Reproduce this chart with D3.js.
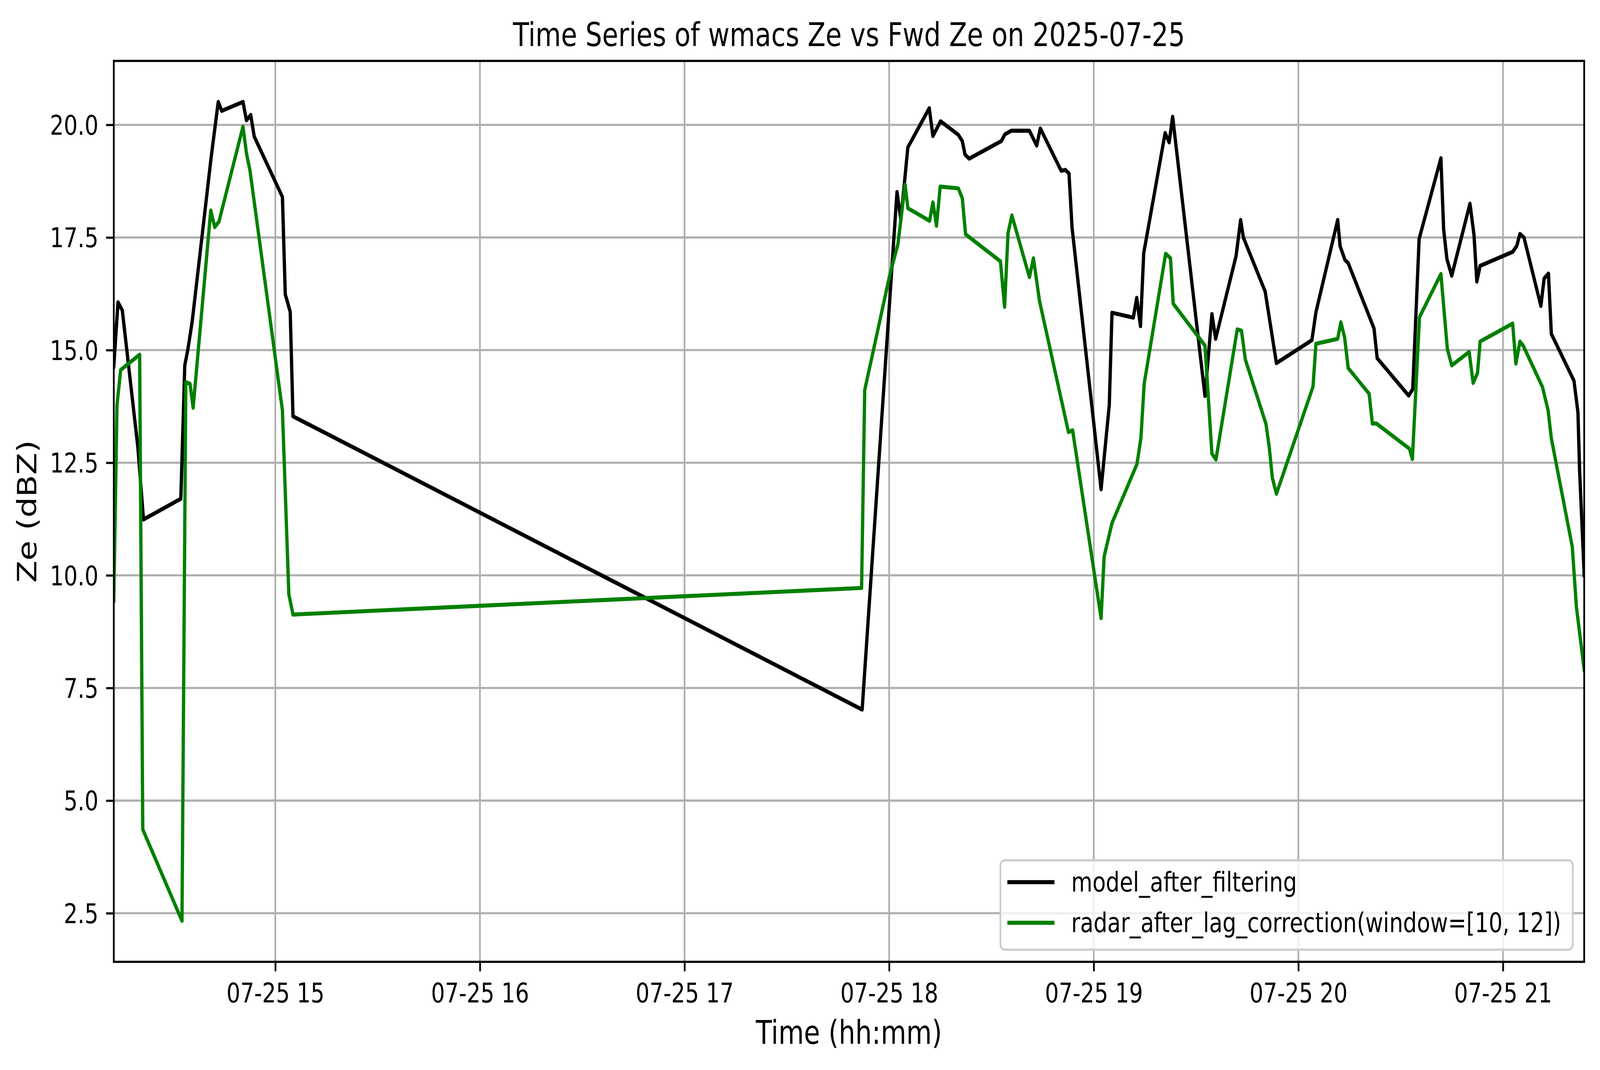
<!DOCTYPE html>
<html>
<head>
<meta charset="utf-8">
<script src="https://cdn.jsdelivr.net/npm/d3@7/dist/d3.min.js"></script>
<style>
	html, body { margin: 0; padding: 0; background: #ffffff; overflow: hidden; }
	#chart svg { display: block; width: 100vw; height: 100vh; }
	svg text { font-family: "DejaVu Sans", sans-serif; fill: #000000; }
</style>
</head>
<body>
<div id="chart"></div>
<script>
//values
var chart_title = "Time Series of wmacs Ze vs Fwd Ze on 2025-07-25";
var x_label = "Time (hh:mm)";
var y_label = "Ze (dBZ)";
var day = "2025-07-25";

var series_names = ["model_after_filtering", "radar_after_lag_correction(window=[10, 12])"];

var model_times = [
	"14:12:38", "14:13:52", "14:15:08", "14:19:41", "14:21:21", "14:32:17", "14:33:27", "14:34:22",
	"14:35:37", "14:41:11", "14:43:16", "14:44:18", "14:50:31", "14:51:32", "14:52:47", "14:53:49",
	"15:02:05", "15:02:55", "15:04:22", "15:05:11", "17:52:05", "18:02:18", "18:03:26", "18:05:29",
	"18:11:46", "18:12:50", "18:15:04", "18:20:17", "18:21:27", "18:22:15", "18:23:28", "18:32:54",
	"18:33:57", "18:35:49", "18:41:08", "18:43:16", "18:44:20", "18:50:27", "18:51:40", "18:52:44",
	"18:53:38", "19:02:09", "19:04:33", "19:05:21", "19:11:36", "19:12:36", "19:13:42", "19:14:39",
	"19:20:56", "19:22:07", "19:23:08", "19:32:37", "19:34:39", "19:35:44", "19:41:44", "19:43:04",
	"19:43:52", "19:50:16", "19:51:12", "19:53:34", "20:03:58", "20:05:09", "20:11:32", "20:12:14",
	"20:13:40", "20:14:37", "20:22:11", "20:23:07", "20:32:20", "20:33:32", "20:35:25", "20:41:48",
	"20:42:36", "20:43:34", "20:44:58", "20:50:19", "20:51:30", "20:52:20", "20:53:18", "21:02:50",
	"21:04:02", "21:04:58", "21:06:09", "21:11:07", "21:12:04", "21:13:20", "21:14:11", "21:20:49",
	"21:21:59", "21:22:28", "21:23:49"
];
var model_values = [
	14.64, 16.06, 15.88, 12.85, 11.24, 11.70, 14.66, 15.02,
	15.63, 19.28, 20.51, 20.31, 20.51, 20.10, 20.22, 19.74,
	18.40, 16.24, 15.85, 13.53, 7.02, 18.51, 17.89, 19.50,
	20.37, 19.75, 20.08, 19.78, 19.64, 19.34, 19.25, 19.64,
	19.79, 19.87, 19.87, 19.54, 19.92, 18.98, 19.00, 18.92,
	17.72, 11.91, 13.78, 15.83, 15.72, 16.16, 15.53, 17.15,
	19.82, 19.61, 20.18, 13.98, 15.80, 15.25, 17.09, 17.89,
	17.50, 16.30, 15.85, 14.71, 15.22, 15.84, 17.89, 17.31,
	17.00, 16.93, 15.48, 14.82, 13.99, 14.13, 17.47, 19.26,
	17.68, 17.02, 16.65, 18.25, 17.56, 16.52, 16.87, 17.18,
	17.31, 17.58, 17.50, 15.98, 16.59, 16.70, 15.36, 14.32,
	13.62, 12.33, 10.00
];

var radar_times = [
	"14:12:38", "14:13:34", "14:14:39", "14:20:13", "14:21:08", "14:32:38", "14:33:45", "14:34:59",
	"14:35:54", "14:41:04", "14:42:14", "14:43:28", "14:50:31", "14:51:32", "14:52:35", "15:02:05",
	"15:03:58", "15:05:11", "17:51:55", "17:52:50", "18:00:10", "18:02:34", "18:04:41", "18:05:29",
	"18:11:52", "18:12:50", "18:13:53", "18:14:58", "18:20:17", "18:21:27", "18:22:25", "18:32:38",
	"18:33:51", "18:34:52", "18:35:59", "18:41:08", "18:42:19", "18:44:04", "18:52:35", "18:53:48",
	"19:02:09", "19:03:03", "19:05:21", "19:12:40", "19:13:50", "19:14:47", "19:21:05", "19:22:30",
	"19:23:18", "19:32:37", "19:34:39", "19:35:50", "19:42:05", "19:43:19", "19:44:27", "19:50:30",
	"19:51:26", "19:52:23", "19:53:34", "20:04:18", "20:05:09", "20:11:32", "20:12:28", "20:13:34",
	"20:14:37", "20:20:45", "20:21:42", "20:22:53", "20:32:35", "20:33:26", "20:35:31", "20:41:48",
	"20:43:41", "20:44:58", "20:50:05", "20:51:15", "20:52:32", "20:53:18", "21:02:50", "21:03:47",
	"21:04:58", "21:05:55", "21:11:35", "21:13:14", "21:14:11", "21:20:20", "21:21:31", "21:23:49"
];
var radar_values = [
	9.44, 13.77, 14.56, 14.90, 4.36, 2.33, 14.29, 14.25,
	13.72, 18.10, 17.73, 17.85, 19.96, 19.37, 18.98, 13.66,
	9.58, 9.13, 9.72, 14.11, 16.66, 17.35, 18.67, 18.15,
	17.87, 18.28, 17.76, 18.63, 18.59, 18.37, 17.57, 16.97,
	15.96, 17.60, 17.99, 16.62, 17.04, 16.10, 13.18, 13.22,
	9.05, 10.42, 11.16, 12.47, 13.05, 14.25, 17.14, 17.04,
	16.03, 15.10, 12.70, 12.57, 15.46, 15.43, 14.79, 13.36,
	12.86, 12.16, 11.81, 14.19, 15.14, 15.25, 15.62, 15.28,
	14.60, 14.03, 13.37, 13.37, 12.81, 12.58, 15.73, 16.69,
	15.03, 14.66, 14.96, 14.27, 14.49, 15.19, 15.59, 14.70,
	15.19, 15.10, 14.18, 13.66, 13.04, 10.63, 9.31, 7.90
];

var y_tick_values = [2.5, 5.0, 7.5, 10.0, 12.5, 15.0, 17.5, 20.0];


function Chart(frame_id)
{
	//Sets up the svg, scales and draws everything inside <frame_id>
	var self = this;

	self.width = 5062;
	self.height = 2740;
	self.plot = {left: 360, right: 5012, top: 156, bottom: 2463};

	//pixel sizes of a matplotlib figure at ~500 dpi
	self.pt = 500 / 72;
	self.font_tick = 69;
	self.font_label = 83;

	var parse = d3.timeParse("%Y-%m-%d %H:%M:%S");

	self.series = [
		{name: series_names[0], color: "#000000", points: model_times.map(function(t, i){ return {t: parse(day + " " + t), v: model_values[i]}; })},
		{name: series_names[1], color: "#008000", points: radar_times.map(function(t, i){ return {t: parse(day + " " + t), v: radar_values[i]}; })}
	];

	var all_points = self.series[0].points.concat(self.series[1].points);

	self.x = d3.scaleTime()
		.domain(d3.extent(all_points, function(d){ return d.t; }))
		.range([self.plot.left, self.plot.right]);

	//matplotlib style 5% margin on the y data range
	var y_ext = d3.extent(all_points, function(d){ return d.v; });
	var y_pad = (y_ext[1] - y_ext[0]) * 0.05;

	self.y = d3.scaleLinear()
		.domain([y_ext[0] - y_pad, y_ext[1] + y_pad])
		.range([self.plot.bottom, self.plot.top]);

	//the viewBox keeps the drawing at 5062x2740 whatever the css size of the window is
	self.svg = d3.select("#" + frame_id)
		.append("svg")
			.attr("viewBox", "0 0 " + self.width + " " + self.height)
			.attr("preserveAspectRatio", "none");

	self.svg.append("rect")
		.attr("width", self.width)
		.attr("height", self.height)
		.attr("fill", "#ffffff");

	self.drawGrid();
	self.drawLines();
	self.drawAxes();
	self.drawLegend();
	self.drawTexts();
}

Chart.prototype.drawGrid = function()
{
	var self = this;
	var g = self.svg.append("g").attr("class", "grid");

	g.selectAll(".gx")
		.data(self.x.ticks(d3.timeHour.every(1)))
		.enter()
			.append("line")
				.attr("x1", function(d){ return self.x(d); })
				.attr("x2", function(d){ return self.x(d); })
				.attr("y1", self.plot.top)
				.attr("y2", self.plot.bottom);

	g.selectAll(".gy")
		.data(y_tick_values)
		.enter()
			.append("line")
				.attr("x1", self.plot.left)
				.attr("x2", self.plot.right)
				.attr("y1", function(d){ return self.y(d); })
				.attr("y2", function(d){ return self.y(d); });

	g.selectAll("line")
		.attr("stroke", "#b0b0b0")
		.attr("stroke-width", 0.8 * self.pt);
};

Chart.prototype.drawLines = function()
{
	var self = this;

	self.svg.append("clipPath")
		.attr("id", "plot_clip")
		.append("rect")
			.attr("x", self.plot.left)
			.attr("y", self.plot.top)
			.attr("width", self.plot.right - self.plot.left)
			.attr("height", self.plot.bottom - self.plot.top);

	var line = d3.line()
		.x(function(d){ return self.x(d.t); })
		.y(function(d){ return self.y(d.v); });

	self.svg.append("g")
		.attr("clip-path", "url(#plot_clip)")
		.selectAll("path")
		.data(self.series)
		.enter()
			.append("path")
				.attr("d", function(d){ return line(d.points); })
				.attr("fill", "none")
				.attr("stroke", function(d){ return d.color; })
				.attr("stroke-width", 1.5 * self.pt)
				.attr("stroke-linejoin", "round")
				.attr("stroke-linecap", "square");
};

Chart.prototype.drawAxes = function()
{
	var self = this;
	var tick_len = 3.5 * self.pt;

	var x_axis = d3.axisBottom(self.x)
		.ticks(d3.timeHour.every(1))
		.tickFormat(d3.timeFormat("%m-%d %H"))
		.tickSize(tick_len)
		.tickSizeOuter(0);

	var y_axis = d3.axisLeft(self.y)
		.tickValues(y_tick_values)
		.tickFormat(d3.format(".1f"))
		.tickSize(tick_len)
		.tickSizeOuter(0);

	var gx = self.svg.append("g")
		.attr("transform", "translate(0," + self.plot.bottom + ")")
		.call(x_axis);

	var gy = self.svg.append("g")
		.attr("transform", "translate(" + self.plot.left + ",0)")
		.call(y_axis);

	[gx, gy].forEach(function(g)
		{
			g.select(".domain").remove();
			g.selectAll(".tick line")
				.attr("stroke", "#000000")
				.attr("stroke-width", 0.8 * self.pt);
			g.selectAll(".tick text")
				.attr("font-family", "DejaVu Sans")
				.attr("font-size", self.font_tick)
				.attr("fill", "#000000");
		}
	);

	gx.selectAll(".tick text")
		.attr("y", 104)
		.attr("dy", 0);

	gy.selectAll(".tick text")
		.attr("x", -2 * tick_len)
		.attr("dy", "0.36em");

	//axes frame
	self.svg.append("rect")
		.attr("x", self.plot.left)
		.attr("y", self.plot.top)
		.attr("width", self.plot.right - self.plot.left)
		.attr("height", self.plot.bottom - self.plot.top)
		.attr("fill", "none")
		.attr("stroke", "#000000")
		.attr("stroke-width", 0.8 * self.pt);
};

Chart.prototype.drawLegend = function()
{
	var self = this;

	var box = {x: 3165, y: 2203, w: 1811, h: 229};
	var rows = [2259, 2363];

	var g = self.svg.append("g").attr("class", "legend");

	g.append("rect")
		.attr("x", box.x)
		.attr("y", box.y)
		.attr("width", box.w)
		.attr("height", box.h)
		.attr("rx", 14)
		.attr("fill", "#ffffff")
		.attr("fill-opacity", 0.8)
		.attr("stroke", "#cccccc")
		.attr("stroke-width", 0.8 * self.pt);

	var item = g.selectAll(".item")
		.data(self.series)
		.enter()
			.append("g")
				.attr("transform", function(d, i){ return "translate(0," + rows[i] + ")"; });

	item.append("line")
		.attr("x1", 3187)
		.attr("x2", 3336)
		.attr("stroke", function(d){ return d.color; })
		.attr("stroke-width", 1.5 * self.pt);

	item.append("text")
		.attr("x", 3389)
		.attr("y", 24)
		.attr("font-size", self.font_tick)
		.text(function(d){ return d.name; });
};

Chart.prototype.drawTexts = function()
{
	var self = this;
	var mid_x = (self.plot.left + self.plot.right) / 2;
	var mid_y = (self.plot.top + self.plot.bottom) / 2;

	self.svg.append("text")
		.attr("x", mid_x)
		.attr("y", 118)
		.attr("text-anchor", "middle")
		.attr("font-size", self.font_label)
		.text(chart_title);

	self.svg.append("text")
		.attr("x", mid_x)
		.attr("y", 2673)
		.attr("text-anchor", "middle")
		.attr("font-size", self.font_label)
		.text(x_label);

	self.svg.append("text")
		.attr("transform", "translate(115," + mid_y + ") rotate(-90)")
		.attr("text-anchor", "middle")
		.attr("font-size", self.font_label)
		.text(y_label);
};

chart_1 = new Chart("chart");
</script>
</body>
</html>
